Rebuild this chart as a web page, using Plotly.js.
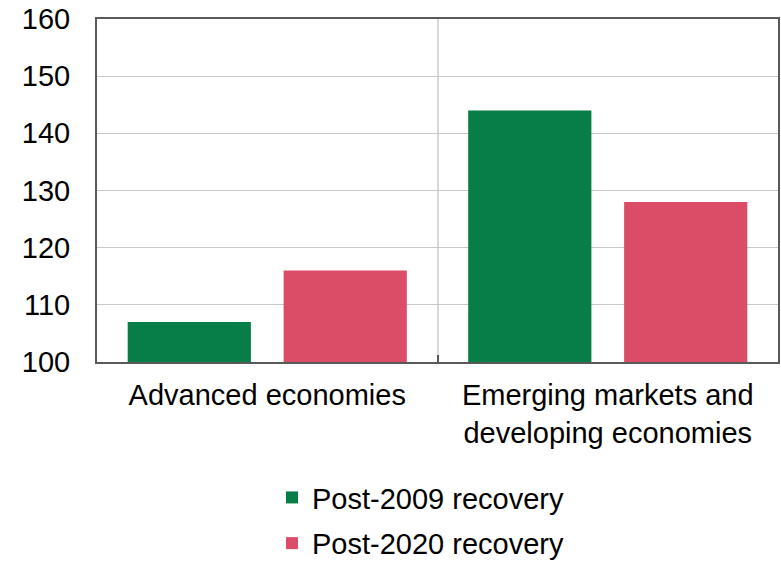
<!DOCTYPE html>
<html>
<head>
<meta charset="utf-8">
<script src="https://cdn.plot.ly/plotly-3.0.1.min.js"></script>
<style>html,body{margin:0;padding:0;background:#fff;}#chart{width:781px;height:562px;}</style>
</head>
<body>
<div id="chart"></div>
<script>
const categories = ["Advanced economies", "Emerging markets and<br>developing economies"];
const seriesNames = ["Post-2009 recovery", "Post-2020 recovery"];
const post2009 = [107, 144];
const post2020 = [116, 128];
const yTicks = [100, 110, 120, 130, 140, 150, 160];

const font = {family: "Liberation Sans, Arial, sans-serif", size: 29, color: "#000"};

const traces = [
  {type: "bar", name: seriesNames[0], x: categories, y: post2009, marker: {color: "#077D47"}, legendgroup: "a", hoverinfo: "none"},
  {type: "bar", name: seriesNames[1], x: categories, y: post2020, marker: {color: "#DB4C66"}, legendgroup: "b", hoverinfo: "none"}
];

const layout = {
  width: 781, height: 562,
  margin: {l: 97, r: 3, t: 19, b: 200, autoexpand: false},
  paper_bgcolor: "#fff", plot_bgcolor: "#fff",
  font: font,
  barmode: "group",
  bargap: 0.084,
  bargroupgap: 0.21,
  showlegend: true,
  legend: {x: 0.475, xanchor: "center", xref: "paper", y: 0.16, yanchor: "top", yref: "container",
           orientation: "v", tracegroupgap: 5, font: font, itemwidth: 30},
  xaxis: {type: "category", tickson: "boundaries", ticks: "inside", ticklen: 7, tickwidth: 2,
          tickcolor: "#595959", showgrid: true, gridcolor: "#d9d9d9", gridwidth: 2,
          showline: true, linecolor: "#595959", linewidth: 2, mirror: true,
          ticklabelstandoff: 6, tickfont: font, fixedrange: true, automargin: false},
  yaxis: {range: [100, 160], tickvals: yTicks, ticktext: yTicks.map(String),
          showgrid: true, gridcolor: "#c8c8c8", gridwidth: 1,
          showline: true, linecolor: "#595959", linewidth: 2, mirror: true,
          ticks: "", ticklabelstandoff: 19, tickfont: font, zeroline: false, fixedrange: true, automargin: false}
};

Plotly.newPlot("chart", traces, layout, {displayModeBar: false, staticPlot: true});
</script>
</body>
</html>
